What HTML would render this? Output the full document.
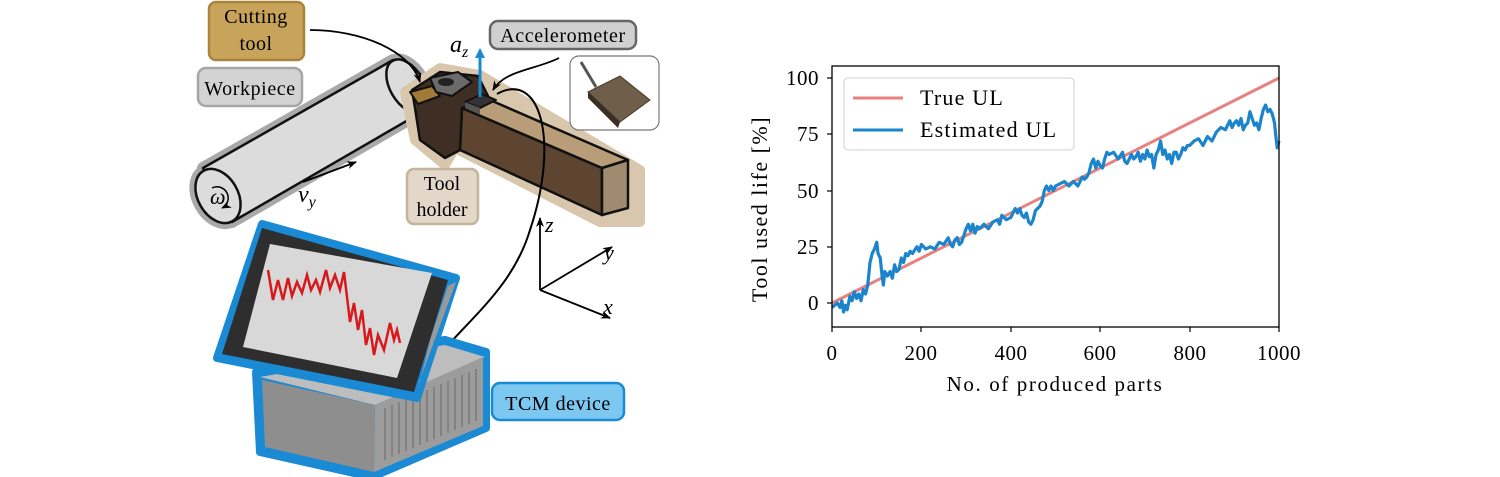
<!DOCTYPE html>
<html><head><meta charset="utf-8"><style>
html,body{margin:0;padding:0;background:#fff;}
svg{display:block;font-family:"Liberation Serif",serif;}
svg text{font-family:"Liberation Serif",serif;}
</style></head><body>
<svg width="1500" height="477" viewBox="0 0 1500 477" xmlns="http://www.w3.org/2000/svg">
<defs>
<marker id="ah" markerWidth="10" markerHeight="8" refX="9" refY="4" orient="auto" markerUnits="userSpaceOnUse"><path d="M0,0 L10,4 L0,8 L3,4z" fill="#000"/></marker>
<marker id="ahb" markerWidth="10" markerHeight="10" refX="8" refY="5" orient="auto" markerUnits="userSpaceOnUse"><path d="M0,0 L10,5 L0,10z" fill="#1a8ad4"/></marker>
</defs>

<!-- Workpiece cylinder -->
<g stroke-linejoin="round">
<polygon points="203,168 393,60 422,112 232,222" fill="#a9a9a9" stroke="#a9a9a9" stroke-width="12"/>
<ellipse cx="218" cy="196" rx="20" ry="29" transform="rotate(-30 218 196)" fill="#a9a9a9" stroke="#a9a9a9" stroke-width="12"/>
<ellipse cx="407" cy="86" rx="17" ry="29" transform="rotate(-30 407 86)" fill="#a9a9a9" stroke="#a9a9a9" stroke-width="12"/>
<polygon points="203,168 393,60 422,112 232,222" fill="#dcdcdc" stroke="#111" stroke-width="2.5"/>
<ellipse cx="407" cy="86" rx="17" ry="29" transform="rotate(-30 407 86)" fill="#dcdcdc" stroke="#111" stroke-width="2.5"/>
<ellipse cx="218" cy="196" rx="20" ry="29" transform="rotate(-30 218 196)" fill="#dcdcdc" stroke="#111" stroke-width="2.5"/>
<path d="M212,188 a10,10 0 1 1 10,20" fill="none" stroke="#000" stroke-width="1.5" marker-end="url(#ah)"/>
<text x="210" y="204" font-size="22" font-style="italic">ω</text>
</g>
<line x1="303" y1="182" x2="356" y2="162" stroke="#000" stroke-width="1.8" marker-end="url(#ah)"/>
<text x="298" y="202" font-size="24" font-style="italic">v<tspan font-size="16" dy="5">y</tspan></text>

<!-- Tool holder -->
<g stroke-linejoin="round">
<polygon points="405,92 440,68 480,75 640,170 640,222 600,222 455,148 445,165 415,140" fill="#d9c7ad" stroke="#d9c7ad" stroke-width="10"/>
<polygon points="462,108 602,168 602,215 460,150" fill="#5e4532" stroke="#111" stroke-width="2.5"/>
<polygon points="462,108 490,100 628,160 602,168" fill="#b99c78" stroke="#111" stroke-width="2.5"/>
<polygon points="602,168 628,160 628,208 602,215" fill="#a08a70" stroke="#111" stroke-width="2.5"/>
<polygon points="412,90 440,72 478,76 490,100 462,108 460,150 445,158 420,140 415,108" fill="#3e2e24" stroke="#111" stroke-width="2.5"/>
<polygon points="410,92 432,86 440,96 418,104" fill="#a27a35" stroke="#111" stroke-width="2"/>
<polygon points="430,78 458,72 472,82 452,96 436,92" fill="#6b6b6b" stroke="#111" stroke-width="2"/>
<ellipse cx="446" cy="82" rx="8" ry="4" fill="#222"/>
<polygon points="465,102 482,94 496,100 480,108" fill="#333" stroke="#111" stroke-width="2"/>
<polygon points="465,102 480,108 480,114 465,108" fill="#555"/>
</g>
<!-- a_z -->
<line x1="480" y1="97" x2="480" y2="50" stroke="#1a8ad4" stroke-width="3" marker-end="url(#ahb)"/>
<text x="450" y="52" font-size="24" font-style="italic">a<tspan font-size="16" dy="5">z</tspan></text>

<!-- connectors -->
<path d="M310,30 C360,30 410,50 420,82" fill="none" stroke="#000" stroke-width="1.8" marker-end="url(#ah)"/>
<path d="M559,58 C535,70 505,70 493,90" fill="none" stroke="#000" stroke-width="1.8" marker-end="url(#ah)"/>
<path d="M497,94 C540,70 560,140 530,230 C515,280 480,310 450,343" fill="none" stroke="#000" stroke-width="2"/>

<!-- sensor photo -->
<rect x="570" y="56" width="89" height="74" rx="9" fill="#fff" stroke="#777" stroke-width="1.2"/>
<line x1="581" y1="62" x2="596" y2="87" stroke="#555" stroke-width="3"/>
<polygon points="588,92 620,76 650,100 620,122" fill="#6e5e4a" stroke="#4a3c2e" stroke-width="1"/>
<polygon points="588,92 620,122 618,128 588,98" fill="#3a2e22"/>

<!-- labels -->
<rect x="209" y="2" width="95" height="58" rx="7" fill="#c8a35a" stroke="#a8843c" stroke-width="2.5"/>
<text x="256" y="23" font-size="20" text-anchor="middle" letter-spacing="0.5">Cutting</text>
<text x="256" y="50" font-size="20" text-anchor="middle" letter-spacing="0.5">tool</text>
<rect x="198" y="68" width="104" height="38" rx="8" fill="#d3d3d3" stroke="#a6a6a6" stroke-width="2.5"/>
<text x="250" y="95" font-size="20" text-anchor="middle" letter-spacing="0.6">Workpiece</text>
<rect x="490" y="21" width="146" height="28" rx="8" fill="#d0d0d0" stroke="#666" stroke-width="2.5"/>
<text x="563" y="42" font-size="20" text-anchor="middle" letter-spacing="0.6">Accelerometer</text>
<rect x="407" y="169" width="71" height="55" rx="7" fill="#e2d7c8" stroke="#c4b49c" stroke-width="2.5"/>
<text x="442" y="190" font-size="20" text-anchor="middle">Tool</text>
<text x="442" y="216" font-size="20" text-anchor="middle">holder</text>

<!-- coordinate axes -->
<g stroke="#000" stroke-width="1.8" fill="none">
<line x1="540" y1="290" x2="540" y2="218" marker-end="url(#ah)"/>
<line x1="540" y1="290" x2="612" y2="247" marker-end="url(#ah)"/>
<line x1="540" y1="290" x2="610" y2="318" marker-end="url(#ah)"/>
</g>
<text x="545" y="232" font-size="22" font-style="italic">z</text>
<text x="604" y="260" font-size="22" font-style="italic">y</text>
<text x="603" y="314" font-size="22" font-style="italic">x</text>

<!-- TCM device -->
<g stroke-linejoin="round">
<polygon points="256,372 445,340 486,352 486,428 372,477 260,452" fill="#1a8ad4" stroke="#1a8ad4" stroke-width="8"/>
<polygon points="260,377 375,405 485,357 445,345" fill="#bdbdbd"/>
<polygon points="262,380 375,405 374,472 265,447" fill="#8e8e8e"/>
<polygon points="375,405 483,357 483,426 374,472" fill="#9c9c9c"/>
<g stroke="#7a7a7a" stroke-width="1.5">
<line x1="385" y1="408" x2="385" y2="460"/><line x1="392" y1="405" x2="392" y2="457"/><line x1="399" y1="402" x2="399" y2="454"/><line x1="406" y1="399" x2="406" y2="451"/><line x1="413" y1="396" x2="413" y2="448"/><line x1="420" y1="393" x2="420" y2="445"/><line x1="427" y1="390" x2="427" y2="442"/><line x1="434" y1="387" x2="434" y2="439"/><line x1="441" y1="384" x2="441" y2="436"/><line x1="448" y1="381" x2="448" y2="433"/><line x1="455" y1="378" x2="455" y2="430"/><line x1="462" y1="375" x2="462" y2="427"/><line x1="469" y1="372" x2="469" y2="424"/><line x1="476" y1="369" x2="476" y2="421"/>
</g>
<polygon points="262,224 456,278 417,398 217,358" fill="#1a8ad4" stroke="#1a8ad4" stroke-width="8"/>
<polygon points="420,380 456,282 448,286 430,340 418,390" fill="#999"/>
<polygon points="262,228 448,280 414,392 222,354" fill="#2e2e2e"/>
<polygon points="270,244 432,273 397,378 243,347" fill="#d8d8d8"/>
<polyline points="268,270 273,300 278,280 283,300 288,278 292,296 297,282 302,293 307,275 311,290 316,280 320,292 326,270 330,288 335,275 340,290 344,272 350,322 354,303 358,330 362,310 366,345 370,328 374,355 378,335 384,350 390,323 394,340 397,330 400,343" fill="none" stroke="#d7191c" stroke-width="2.5" stroke-linejoin="miter"/>
</g>
<rect x="492" y="383" width="132" height="37" rx="8" fill="#7cc8f0" stroke="#1a8ad4" stroke-width="2.5"/>
<text x="558" y="410" font-size="20" text-anchor="middle" letter-spacing="0.5">TCM device</text>

<!-- Plot -->
<g font-size="21" text-anchor="middle" letter-spacing="0.5">
<text x="832" y="360">0</text><text x="921" y="360">200</text><text x="1011" y="360">400</text><text x="1100" y="360">600</text><text x="1190" y="360">800</text><text x="1279" y="360">1000</text>
<text x="1055" y="391" letter-spacing="1.6">No. of produced parts</text>
</g>
<g font-size="21" text-anchor="end" letter-spacing="0.5">
<text x="819" y="310">0</text><text x="819" y="254">25</text><text x="819" y="198">50</text><text x="819" y="141">75</text><text x="819" y="85">100</text>
</g>
<text transform="translate(767,209) rotate(-90)" font-size="22" text-anchor="middle" letter-spacing="1.5">Tool used life [%]</text>
<g stroke="#000" stroke-width="1.2">
<line x1="832" y1="327" x2="832" y2="332"/><line x1="921" y1="327" x2="921" y2="332"/><line x1="1011" y1="327" x2="1011" y2="332"/><line x1="1100" y1="327" x2="1100" y2="332"/><line x1="1190" y1="327" x2="1190" y2="332"/><line x1="1279" y1="327" x2="1279" y2="332"/>
<line x1="827" y1="303" x2="832" y2="303"/><line x1="827" y1="247" x2="832" y2="247"/><line x1="827" y1="191" x2="832" y2="191"/><line x1="827" y1="134" x2="832" y2="134"/><line x1="827" y1="78" x2="832" y2="78"/>
</g>
<g transform="translate(832,303) scale(0.447,-2.25)">
<line x1="0" y1="0" x2="1000" y2="100" stroke="#e8817f" stroke-width="3" vector-effect="non-scaling-stroke"/>
<polyline fill="none" stroke="#1a84cc" stroke-width="3.2" vector-effect="non-scaling-stroke" stroke-linejoin="round" points="0,-2 6,-1 12,0 18,-2 22,1 26,-4 30,-1 34,-3 40,3 45,1 50,5 55,2 60,4 65,1 70,6 75,4 80,8 85,18 90,22 95,24 100,27 103,22 108,20 112,12 115,8 118,14 124,12 130,14 135,11 140,17 145,14 150,15 155,20 160,18 165,22 170,21 175,23 180,22 190,25 195,23 200,26 210,24 220,25 230,24 240,27 250,26 260,29 265,26 270,25 275,28 280,29 285,26 290,27 295,30 300,33 305,35 310,32 315,35 320,31 325,34 330,33 340,35 350,33 360,36 370,37 375,35 380,39 390,37 400,38 405,40 410,42 415,40 420,42 425,39 430,38 435,40 440,36 445,35 450,37 455,41 460,42 465,43 470,45 475,50 480,52 485,50 490,52 495,50 500,52 510,53 520,54 530,52 540,54 550,52 560,56 565,55 570,56 575,58 580,62 585,64 590,60 595,63 600,61 605,60 610,64 615,67 620,66 630,67 640,64 650,67 655,63 660,62 670,66 675,64 680,65 685,67 690,63 695,66 700,64 705,68 710,65 715,66 720,60 725,66 730,68 735,72 740,66 745,68 750,64 755,66 760,62 765,67 770,67 775,64 780,66 785,69 790,68 795,70 800,70 810,72 820,73 830,70 840,74 850,72 860,76 870,78 880,77 890,81 895,78 900,80 905,81 910,79 915,82 920,77 925,79 930,80 935,85 940,82 945,79 950,80 955,77 960,82 965,86 970,88 975,85 980,86 985,84 990,80 993,74 996,69 1000,72"/>
</g>
<rect x="832" y="66" width="447" height="261" fill="none" stroke="#000" stroke-width="1.3"/>
<rect x="844" y="78" width="230" height="72" rx="4" fill="#fff" fill-opacity="0.85" stroke="#d0d0d0" stroke-width="1"/>
<line x1="853" y1="98" x2="903" y2="98" stroke="#e8817f" stroke-width="3"/>
<line x1="853" y1="130" x2="903" y2="130" stroke="#1a84cc" stroke-width="3"/>
<text x="920" y="105" font-size="22" letter-spacing="1.2">True UL</text>
<text x="920" y="137" font-size="22" letter-spacing="1.2">Estimated UL</text>
</svg>
</body></html>
